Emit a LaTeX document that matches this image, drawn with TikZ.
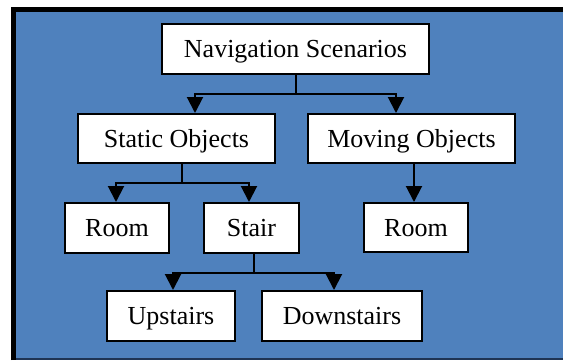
\documentclass[tikz,border=0pt]{standalone}
\usepackage{fontspec}
\setmainfont{Liberation Serif}
\usetikzlibrary{positioning}
\usetikzlibrary{calc}
\usetikzlibrary{arrows.meta}
\definecolor{panelblue}{RGB}{79,129,189}
\definecolor{panelnavy}{RGB}{31,52,84}

\begin{document}
\begin{tikzpicture}[x=1pt,y=-1pt,
  scen/.style={draw=black,line width=2pt,fill=white,rectangle,inner sep=0pt,
    minimum height=50pt,text height=17pt,text depth=0pt,
    font=\fontsize{26}{30}\selectfont},
  link/.style={line width=2pt,-{Triangle[length=16pt,width=16pt]}},
  stem/.style={line width=2pt}]
\useasboundingbox (0,0) rectangle (563,360);
\clip (0,0) rectangle (563,360);
% background panel
\fill[panelblue] (16,12) rectangle (563,358);
\draw[panelnavy,line width=2pt] (16,359) -- (563,359);
\draw[black,line width=5pt] (13.5,360) -- (13.5,9.5) -- (563,9.5);

\node[scen,minimum width=267pt](nav) at (295.5,49){Navigation Scenarios};
\node[scen,minimum width=197pt,minimum height=49pt](static) at (176.5,138.5){Static Objects};
\node[scen,minimum width=207pt,minimum height=49pt](moving) at (411.5,138.5){Moving Objects};
\node[scen,minimum width=104pt](roomA) at (117,228){Room};
\node[scen,minimum width=95pt](stair) at (251.5,228){Stair};
\node[scen,minimum width=104pt,minimum height=49pt](roomB) at (416,227.5){Room};
\node[scen,minimum width=128pt](up) at (171,316){Upstairs};
\node[scen,minimum width=160pt](down) at (342,316){Downstairs};

% junctions and arrow ends
\coordinate(navJ) at (296,94);
\coordinate(toStatic) at (195,113);
\coordinate(toMoving) at (396,113);
\coordinate(staticJ) at (182,183);
\coordinate(toRoomA) at (116,202);
\coordinate(toStair) at (249,202);
\coordinate(toRoomB) at (414,202);
\coordinate(stairJ) at (254,273);
\coordinate(toUp) at (173,290);
\coordinate(toDown) at (334,290);

\draw[stem] (navJ |- nav.south) -- (navJ);
\draw[link] (navJ) -| (toStatic);
\draw[link] (navJ) -| (toMoving);
\draw[stem] (staticJ |- static.south) -- (staticJ);
\draw[link] (staticJ) -| (toRoomA);
\draw[link] (staticJ) -| (toStair);
\draw[link] (toRoomB |- moving.south) -- (toRoomB);
\draw[stem] (stairJ |- stair.south) -- (stairJ);
\draw[link] (stairJ) -| (toUp);
\draw[link] (stairJ) -| (toDown);
\end{tikzpicture}
\end{document}
